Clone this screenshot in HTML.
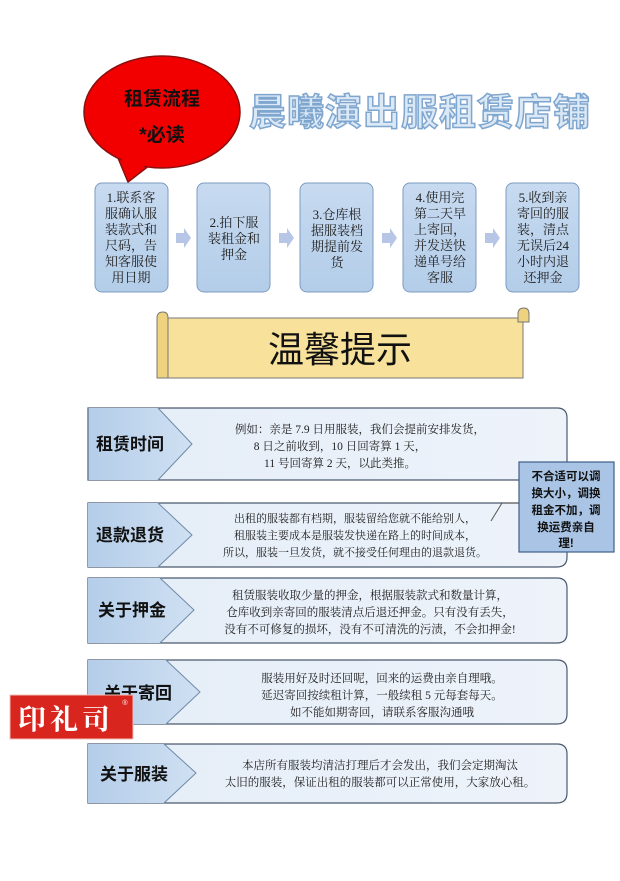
<!DOCTYPE html>
<html><head><meta charset="utf-8"><style>
body{margin:0;background:#fff;}
svg text{font-family:"Liberation Sans","Noto Sans CJK SC",sans-serif;}
.s{font-family:"Liberation Serif","Noto Serif CJK SC",serif !important;}
</style></head><body>
<svg width="620" height="876" viewBox="0 0 620 876" xmlns="http://www.w3.org/2000/svg">
<defs>
<linearGradient id="lab" x1="0" x2="1" y1="0" y2="0"><stop offset="0" stop-color="#b4cde9"/><stop offset="1" stop-color="#cfe0f2"/></linearGradient>
<linearGradient id="bod" x1="0" x2="1" y1="0" y2="0"><stop offset="0" stop-color="#e4edf8"/><stop offset="1" stop-color="#eef3fa"/></linearGradient>
<linearGradient id="step" x1="0" x2="0" y1="0" y2="1"><stop offset="0" stop-color="#c7daf0"/><stop offset="1" stop-color="#b3cde9"/></linearGradient>
</defs>
<!-- balloon -->
<path d="M118 158 L128 182 L150 165 Z" fill="#f20000" stroke="#8a1010" stroke-width="1.5"/>
<ellipse cx="162" cy="112" rx="78" ry="56" fill="#f20000" stroke="#8a1010" stroke-width="1.5"/>
<path d="M121 158 L129 178 L147 164 Z" fill="#f20000"/>
<text x="162" y="105" font-size="19" font-weight="bold" text-anchor="middle" fill="#111">租赁流程</text>
<text x="162" y="141" font-size="19" font-weight="bold" text-anchor="middle" fill="#111">*必读</text>
<!-- title -->
<text x="420" y="125" font-size="37" font-weight="bold" text-anchor="middle" fill="#dbe8f5" stroke="#7fa6cf" stroke-width="1.5" letter-spacing="1">晨曦演出服租赁店铺</text>
<!-- steps -->
<g stroke="#7d9bc0" stroke-width="1" fill="url(#step)">
<rect x="95" y="183" width="73" height="109" rx="7"/>
<rect x="197" y="183" width="73" height="109" rx="7"/>
<rect x="300" y="183" width="73" height="109" rx="7"/>
<rect x="403" y="183" width="73" height="109" rx="7"/>
<rect x="506" y="183" width="73" height="109" rx="7"/>
</g>
<g fill="#b7c6e6">
<path d="M176 233h8v-5l7 10-7 10v-5h-8z"/>
<path d="M279 233h8v-5l7 10-7 10v-5h-8z"/>
<path d="M382 233h8v-5l7 10-7 10v-5h-8z"/>
<path d="M485 233h8v-5l7 10-7 10v-5h-8z"/>
</g>
<g font-size="13" fill="#222" text-anchor="middle">
<text class="s" x="131" y="202">1.联系客</text><text class="s" x="131" y="218">服确认服</text><text class="s" x="131" y="234">装款式和</text><text class="s" x="131" y="250">尺码，告</text><text class="s" x="131" y="266">知客服使</text><text class="s" x="131" y="282">用日期</text>
<text class="s" x="234" y="227">2.拍下服</text><text class="s" x="234" y="243">装租金和</text><text class="s" x="234" y="259">押金</text>
<text class="s" x="337" y="219">3.仓库根</text><text class="s" x="337" y="235">据服装档</text><text class="s" x="337" y="251">期提前发</text><text class="s" x="337" y="267">货</text>
<text class="s" x="440" y="202">4.使用完</text><text class="s" x="440" y="218">第二天早</text><text class="s" x="440" y="234">上寄回，</text><text class="s" x="440" y="250">并发送快</text><text class="s" x="440" y="266">递单号给</text><text class="s" x="440" y="282">客服</text>
<text class="s" x="543" y="202">5.收到亲</text><text class="s" x="543" y="218">寄回的服</text><text class="s" x="543" y="234">装，清点</text><text class="s" x="543" y="250">无误后24</text><text class="s" x="543" y="266">小时内退</text><text class="s" x="543" y="282">还押金</text>
</g>
<!-- scroll -->
<rect x="163" y="318" width="360" height="60" fill="#f8e29b" stroke="#777" stroke-width="1"/>
<path d="M157 318 q0 -6 6 -6 q5 0 5 6 v60 h-11z" fill="#eed27f" stroke="#777"/>
<path d="M518 314 q0 -6 6 -6 q5 0 5 6 v8 h-11z" fill="#eed27f" stroke="#777"/>
<text x="340" y="362" font-size="36" text-anchor="middle" fill="#111">温馨提示</text>
<!-- rows -->
<g>
<path d="M88 408 H557 Q567 408 567 418 V470 Q567 480 557 480 H88Z" fill="url(#bod)" stroke="#4a5a6e" stroke-width="1.2"/>
<path d="M88 408 H158 L192 444 L158 480 H88Z" fill="url(#lab)"/>
<path d="M158 408 L192 444 L158 480" fill="none" stroke="#6f8aa8"/>
<path d="M88 408 V480" stroke="#4a5a6e"/>
<text x="96" y="450" font-size="17" font-weight="bold" fill="#111">租赁时间</text>
<g font-size="11.5" fill="#222" text-anchor="middle"><text class="s" x="360" y="433">例如：亲是 7.9 日用服装，我们会提前安排发货，</text><text class="s" x="340" y="450">8 日之前收到，10 日回寄算 1 天，</text><text class="s" x="340" y="467">11 号回寄算 2 天，以此类推。</text></g>
</g>
<g>
<path d="M88 503 H557 Q567 503 567 513 V557 Q567 567 557 567 H88Z" fill="url(#bod)" stroke="#4a5a6e" stroke-width="1.2"/>
<path d="M88 503 H158 L192 535 L158 567 H88Z" fill="url(#lab)"/>
<path d="M158 503 L192 535 L158 567" fill="none" stroke="#6f8aa8"/>
<text x="96" y="541" font-size="17" font-weight="bold" fill="#111">退款退货</text>
<g font-size="11" fill="#222" text-anchor="middle"><text class="s" x="355" y="522">出租的服装都有档期，服装留给您就不能给别人，</text><text class="s" x="355" y="539">租服装主要成本是服装发快递在路上的时间成本，</text><text class="s" x="355" y="556">所以，服装一旦发货，就不接受任何理由的退款退货。</text></g>
</g>
<g>
<path d="M88 578 H557 Q567 578 567 588 V633 Q567 643 557 643 H88Z" fill="url(#bod)" stroke="#4a5a6e" stroke-width="1.2"/>
<path d="M88 578 H160 L194 610 L160 643 H88Z" fill="url(#lab)"/>
<path d="M160 578 L194 610 L160 643" fill="none" stroke="#6f8aa8"/>
<text x="98" y="616" font-size="17" font-weight="bold" fill="#111">关于押金</text>
<g font-size="11.5" fill="#222" text-anchor="middle"><text class="s" x="370" y="599">租赁服装收取少量的押金，根据服装款式和数量计算，</text><text class="s" x="370" y="616">仓库收到亲寄回的服装清点后退还押金。只有没有丢失，</text><text class="s" x="370" y="633">没有不可修复的损坏，没有不可清洗的污渍，不会扣押金!</text></g>
</g>
<g>
<path d="M88 660 H557 Q567 660 567 670 V714 Q567 724 557 724 H88Z" fill="url(#bod)" stroke="#4a5a6e" stroke-width="1.2"/>
<path d="M88 660 H166 L200 692 L166 724 H88Z" fill="url(#lab)"/>
<path d="M166 660 L200 692 L166 724" fill="none" stroke="#6f8aa8"/>
<text x="104" y="699" font-size="17" font-weight="bold" fill="#111">关于寄回</text>
<g font-size="11.5" fill="#222" text-anchor="middle"><text class="s" x="382" y="682">服装用好及时还回呢，回来的运费由亲自理哦。</text><text class="s" x="382" y="699">延迟寄回按续租计算，一般续租 5 元每套每天。</text><text class="s" x="382" y="716">如不能如期寄回，请联系客服沟通哦</text></g>
</g>
<g>
<path d="M88 744 H557 Q567 744 567 754 V793 Q567 803 557 803 H88Z" fill="url(#bod)" stroke="#4a5a6e" stroke-width="1.2"/>
<path d="M88 744 H164 L196 773 L164 803 H88Z" fill="url(#lab)"/>
<path d="M164 744 L196 773 L164 803" fill="none" stroke="#6f8aa8"/>
<text x="100" y="780" font-size="17" font-weight="bold" fill="#111">关于服装</text>
<g font-size="11.5" fill="#222" text-anchor="middle"><text class="s" x="380" y="769">本店所有服装均清洁打理后才会发出，我们会定期淘汰</text><text class="s" x="380" y="786">太旧的服装，保证出租的服装都可以正常使用，大家放心租。</text></g>
</g>
<!-- callout -->
<path d="M491 521 L502 503 H519" fill="none" stroke="#555" stroke-width="1"/>
<rect x="519" y="462" width="95" height="90" fill="#a9c4e5" stroke="#3e5f8a" stroke-width="1.2"/>
<g font-size="11.5" font-weight="bold" fill="#111" text-anchor="middle">
<text x="566" y="480">不合适可以调</text><text x="566" y="497">换大小，调换</text><text x="566" y="514">租金不加，调</text><text x="566" y="531">换运费亲自</text><text x="566" y="547">理!</text>
</g>
<!-- stamp -->
<rect x="10" y="695" width="123" height="44" fill="#d8251e" stroke="#f0c0b8" stroke-width="1"/>
<text x="66" y="729" font-size="28" font-weight="bold" fill="#fff" text-anchor="middle" class="s" letter-spacing="4">印礼司</text>
<text x="125" y="705" font-size="7" fill="#fff" text-anchor="middle">®</text>
</svg>
</body></html>
